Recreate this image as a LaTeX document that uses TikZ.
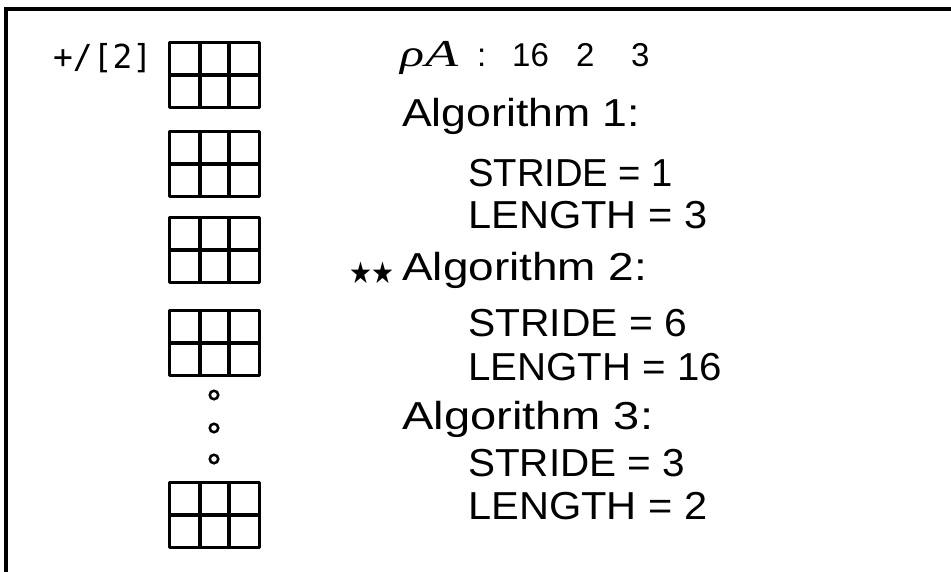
\documentclass[tikz,border=0pt]{standalone}
\usepackage{fontspec}
\usepackage{graphicx}
\setmainfont{Liberation Sans}
\newfontfamily\symfnt{DejaVu Sans}
\newfontfamily\monofnt{DejaVu Sans Mono}
\newfontfamily\serfnt{Liberation Serif}
\newcommand{\fitw}[2]{\resizebox{#1pt}{\height}{#2}}
\begin{document}
\begin{tikzpicture}[x=1pt,y=-1pt,
  txt/.style={anchor=base west, inner sep=0pt, font=\fontsize{39}{44}\selectfont},
  small/.style={anchor=base west, inner sep=0pt, font=\fontsize{33}{38}\selectfont},
  itl/.style={anchor=base west, inner sep=0pt, font=\serfnt\itshape\fontsize{38}{42}\selectfont},
  gridbox/.style={inner sep=0pt, minimum width=89pt, minimum height=64pt},
  gridline/.style={line width=3.3pt, line cap=round, line join=round},
  frameline/.style={line width=3.5pt},
  dotmark/.style={circle, draw, line width=2.5pt, minimum size=8.5pt, inner sep=0pt}]
\useasboundingbox (0,0) rectangle (951,572);
\fill[white] (0,0) rectangle (951,572);
\draw[frameline] (951,9) -- (6,9) -- (6,572);
% grids
\foreach \t/\n in {43/g1,132/g2,218/g3,311/g4,483/g5}{
  \node[gridbox] (\n) at (214.5,\t+32) {};
  \draw[gridline] (\n.north west) rectangle (\n.south east);
  \draw[gridline] (\n.west) -- (\n.east);
  \draw[gridline] (200,\t) -- (200,\t+64);
  \draw[gridline] (229,\t) -- (229,\t+64);
}
\node[dotmark] (d1) at (214,395) {};
\node[dotmark] (d2) at (214,428) {};
\node[dotmark] (d3) at (214,459) {};
% left label
\node[anchor=base west, inner sep=0pt, font=\monofnt\fontsize{33}{36}\selectfont] (red) at (53,69) {\fitw{99}{+/[2]}};
% header
\node[itl] (rho) at (400,67) {\fitw{24}{ρ}};
\node[itl] (A) at (425,67) {\fitw{33}{A}};
\node[small] (colon) at (477,67) {:};
\node[small] (n16) at (512,67) {16};
\node[small] (n2) at (576,67) {2};
\node[small] (n3) at (631,67) {3};
% algorithms
\node[txt] (a1) at (402,127) {\fitw{238}{Algorithm 1:}};
\node[txt] (s1) at (468,187) {\fitw{205}{STRIDE = 1}};
\node[txt] (l1) at (468,229) {\fitw{239}{LENGTH = 3}};
\node[inner sep=0pt, font=\symfnt\fontsize{30}{34}\selectfont] (stars) at (372,273) {\fitw{46}{★★}};
\node[txt] (a2) at (402,280) {\fitw{245}{Algorithm 2:}};
\node[txt] (s2) at (468,336) {\fitw{219}{STRIDE = 6}};
\node[txt] (l2) at (468,380) {\fitw{254}{LENGTH = 16}};
\node[txt] (a3) at (402,429) {\fitw{251}{Algorithm 3:}};
\node[txt] (s3) at (468,476) {\fitw{217}{STRIDE = 3}};
\node[txt] (l3) at (468,519) {\fitw{239}{LENGTH = 2}};
\end{tikzpicture}
\end{document}
